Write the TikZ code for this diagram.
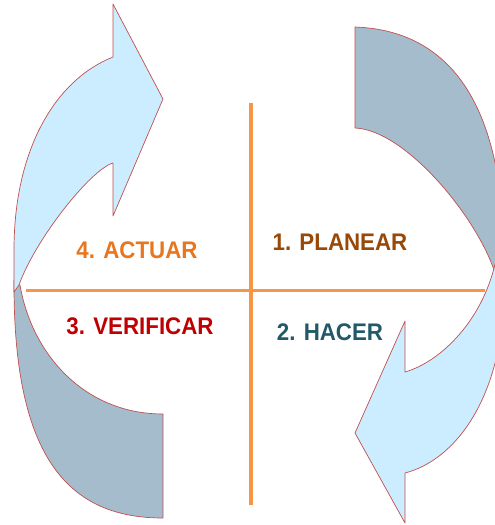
\documentclass[tikz,border=0pt]{standalone}
\usepackage{fontspec}
\setmainfont{Liberation Sans}
\newfontfamily\pdcafont[FakeStretch=0.93]{Liberation Sans}
\usepackage{tikz}

\definecolor{lightarrow}{RGB}{204,236,255}
\definecolor{darkband}{RGB}{165,188,204}
\definecolor{edgered}{RGB}{192,80,77}
\definecolor{crossorange}{RGB}{247,150,70}
\definecolor{actuarorange}{RGB}{232,118,30}
\definecolor{planearbrown}{RGB}{152,72,7}
\definecolor{verificarred}{RGB}{192,0,0}
\definecolor{hacerteal}{RGB}{33,89,104}

\begin{document}
\begin{tikzpicture}[x=1pt,y=-1pt,
        band/.style={draw=edgered, line width=0.7pt, line join=round},
        cross/.style={draw=crossorange, line width=3.5pt},
        phase/.style={font=\pdcafont\bfseries\fontsize{24}{28}\selectfont, inner sep=0pt}]
        \useasboundingbox (0,0) rectangle (495,525);
        \begin{scope}
            \clip (0,0) rectangle (495,525);
            % left arrow: back band, then front arrow
            \filldraw[band, fill=darkband] (14,280) -- (14,285) .. controls (14,460) and (70,518) .. (163,518)
                -- (163,414) .. controls (85,414) and (32,355) .. (20,285) -- cycle;
            \filldraw[band, fill=lightarrow] (113,57) .. controls (55,80) and (14,150) .. (14,250) -- (14,292)
                -- (19,285) .. controls (35,240) and (90,170) .. (113,163)
                -- (113,216) -- (163,99) -- (113,4) -- cycle;
            % right arrow: back band, then front arrow
            \filldraw[band, fill=darkband] (355,27) .. controls (440,30) and (504,90) .. (504,260) -- (504,275)
                -- (494,270) .. controls (475,215) and (405,130) .. (355,128) -- cycle;
            \filldraw[band, fill=lightarrow] (405,473) .. controls (455,460) and (500,400) .. (504,300) -- (504,245)
                -- (497,255) .. controls (485,320) and (440,362) .. (405,372)
                -- (405,321) -- (355,433) -- (405,523) -- cycle;
        \end{scope}
        \coordinate (vtop) at (251,103);
        \coordinate (vbottom) at (251,505);
        \coordinate (hleft) at (26,290.5);
        \coordinate (hright) at (485,290.5);
        \draw[cross] (vtop) -- (vbottom);
        \draw[cross] (hleft) -- (hright);
        \node[phase, text=planearbrown] (planear) at (340,242.5) {1. PLANEAR};
        \node[phase, text=hacerteal] (hacer) at (330,332) {2. HACER};
        \node[phase, text=verificarred] (verificar) at (140,326.5) {3. VERIFICAR};
        \node[phase, text=actuarorange] (actuar) at (137,250) {4. ACTUAR};
\end{tikzpicture}
\end{document}
